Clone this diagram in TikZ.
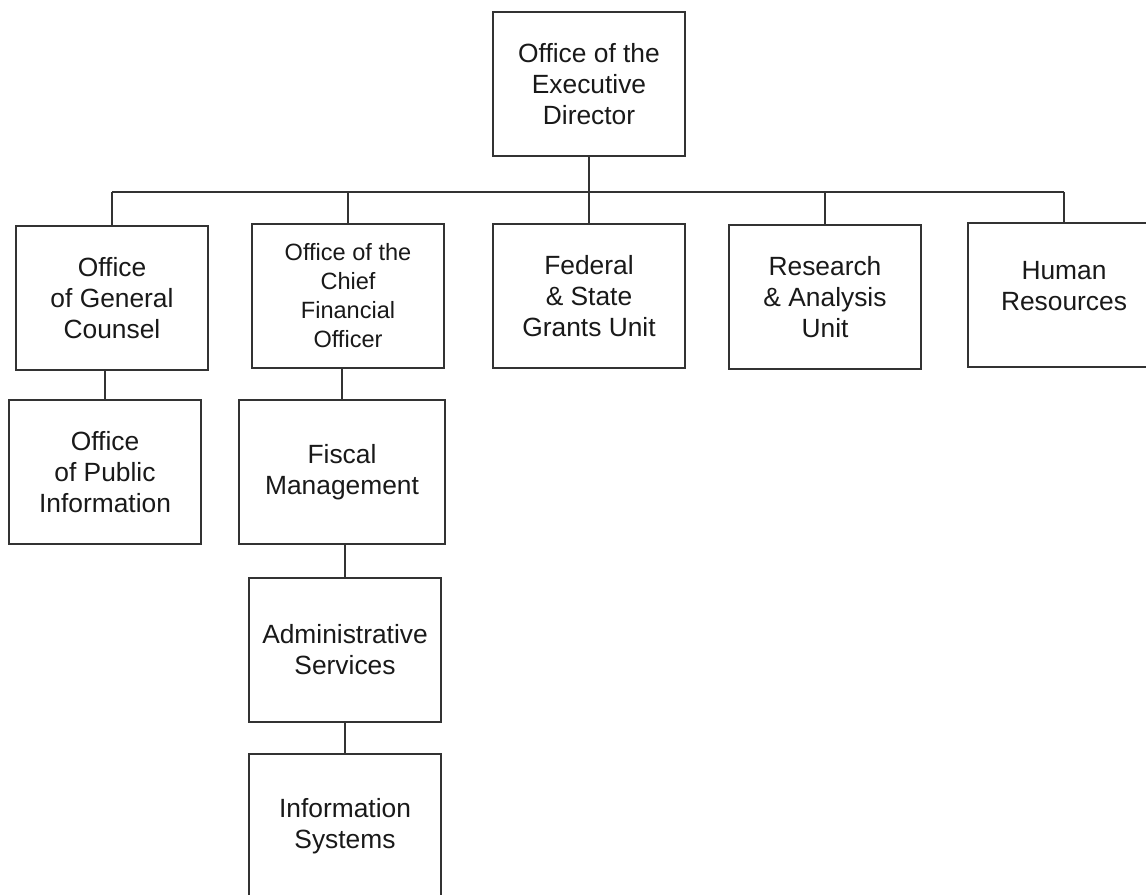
\documentclass[tikz,border=0pt]{standalone}
\usepackage{fontspec}
\setmainfont{Liberation Sans}
\usetikzlibrary{positioning}

\begin{document}
\begin{tikzpicture}[x=0.02cm, y=-0.02cm, % 1 Einheit = 1 Pixel, y nach unten
    unittext/.style={align=center, text=black!90, font=\fontsize{15}{17.6}\selectfont},
    unit/.style={unittext, draw=black!80, line width=0.7pt, fill=white,
        minimum width=3.84cm, minimum height=2.88cm, inner sep=2pt},
    link/.style={draw=black!80, line width=0.7pt}]
    \useasboundingbox (0,0) rectangle (1146,894);
    % Leitung
    \node[unit] (exec) at (589,84) {Office of the\\Executive\\Director};
    % zweite Ebene
    \node[unit, font=\fontsize{13.4}{16.5}\selectfont] (cfo) at (348,296) {Office of the\\Chief\\Financial\\Officer};
    \node[unit] (counsel) at (112,298) {Office\\of General\\Counsel};
    \node[unit] (federal) at (589,296) {Federal\\\& State\\Grants Unit};
    \node[unit] (research) at (825,297) {Research\\\& Analysis\\Unit};
    \node[unit, label={[unittext, yshift=0.18cm]center:{Human\\Resources}}] (hr) at (1064,295) {};
    % dritte Ebene und darunter
    \node[unit] (public) at (105,472) {Office\\of Public\\Information};
    \node[unit, minimum width=4.12cm] (fiscal) at (342,472) {Fiscal\\Management};
    \node[unit] (admin) at (345,650) {Administrative\\Services};
    \node[unit] (info) at (345,826) {Information\\Systems};
    % Verbindungslinien
    \coordinate (bus) at (589,192);
    \draw[link] (exec.south) -- (exec.south |- bus);
    \draw[link] (counsel.north |- bus) -- (hr.north |- bus);
    \foreach \u in {counsel,cfo,federal,research,hr} {
        \draw[link] (\u.north) -- (\u.north |- bus); % Abzweig zur Einheit
    }
    \draw[link] (public.north) -- (public.north |- counsel.south);
    \draw[link] (fiscal.north) -- (fiscal.north |- cfo.south);
    \draw[link] (admin.north) -- (admin.north |- fiscal.south);
    \draw[link] (admin.south) -- (info.north);
\end{tikzpicture}
\end{document}
